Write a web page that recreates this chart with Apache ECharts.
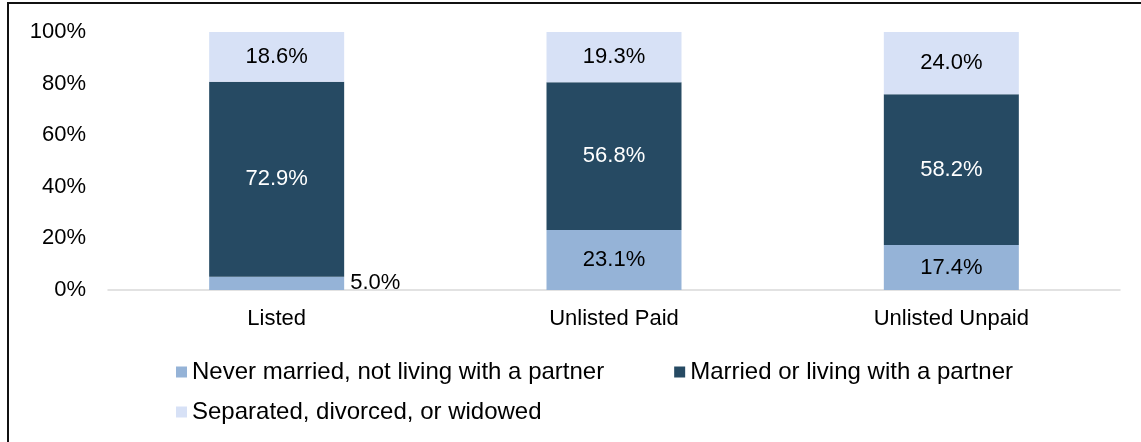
<!DOCTYPE html>
<html>
<head>
<meta charset="utf-8">
<script src="https://cdn.jsdelivr.net/npm/echarts@6/dist/echarts.min.js"></script>
<style>
  html, body { margin: 0; padding: 0; background: #fff; }
  #chart { width: 1141px; height: 442px; }
</style>
</head>
<body>
<div id="chart"></div>
<script>
const categories = ["Listed", "Unlisted Paid", "Unlisted Unpaid"];
const seriesNames = [
  "Never married, not living with a partner",
  "Married or living with a partner",
  "Separated, divorced, or widowed",
];
const neverMarried = [5.0, 23.1, 17.4];
const married = [72.9, 56.8, 58.2];
const separated = [18.6, 19.3, 24.0];
const yTicks = [0, 20, 40, 60, 80, 100];

const colors = ["#95b3d7", "#264a63", "#d7e1f6"];
const labelColors = ["#000", "#fff", "#000"];
const fontFamily = "'Liberation Sans', Arial, sans-serif";

const raw = [neverMarried, married, separated];
// 100% stacked: each bar is scaled to its own total
const totals = categories.map((_, i) => raw.reduce((s, arr) => s + arr[i], 0));

const chart = echarts.init(document.getElementById("chart"));

const series = raw.map((arr, k) => ({
  name: seriesNames[k],
  type: "bar",
  stack: "total",
  barWidth: 135,
  data: arr.map((v, i) => ({
    value: (v / totals[i]) * 100,
    raw: v,
    // the tiny segment gets its label beside the bar, in black
    label: v < 8 ? { position: "right", distance: 6, color: "#000" } : undefined,
  })),
  itemStyle: { color: colors[k] },
  label: {
    show: true,
    position: "inside",
    color: labelColors[k],
    fontSize: 22,
    fontFamily: fontFamily,
    formatter: (p) => p.data.raw.toFixed(1) + "%",
  },
  emphasis: { disabled: true },
}));

const legendText = { color: "#000", fontSize: 24, fontFamily: fontFamily };

chart.setOption({
  animation: false,
  grid: { left: 108, right: 21, top: 32, bottom: 152, containLabel: false },
  xAxis: {
    type: "category",
    data: categories,
    axisLine: { show: true, lineStyle: { color: "#d9d9d9", width: 1.5 } },
    axisTick: { show: false },
    axisLabel: { color: "#000", fontSize: 22, fontFamily: fontFamily, margin: 18 },
  },
  yAxis: {
    type: "value",
    min: yTicks[0],
    max: yTicks[yTicks.length - 1],
    interval: 20,
    axisLine: { show: false },
    axisTick: { show: false },
    splitLine: { show: false },
    axisLabel: { color: "#000", fontSize: 22, fontFamily: fontFamily, margin: 22, formatter: "{value}%" },
  },
  legend: [
    {
      data: seriesNames.slice(0, 2),
      left: 171,
      top: 355,
      itemWidth: 11,
      itemHeight: 11,
      itemGap: 70,
      icon: "rect",
      textStyle: legendText,
      selectedMode: false,
    },
    {
      data: seriesNames.slice(2),
      left: 171,
      top: 395,
      itemWidth: 11,
      itemHeight: 11,
      icon: "rect",
      textStyle: legendText,
      selectedMode: false,
    },
  ],
  graphic: [
    { type: "line", shape: { x1: 8, y1: 2, x2: 8, y2: 442 }, style: { stroke: "#111", lineWidth: 2 } },
    { type: "line", shape: { x1: 7, y1: 3, x2: 1141, y2: 3 }, style: { stroke: "#111", lineWidth: 2 } },
  ],
  series: series,
});
</script>
</body>
</html>
